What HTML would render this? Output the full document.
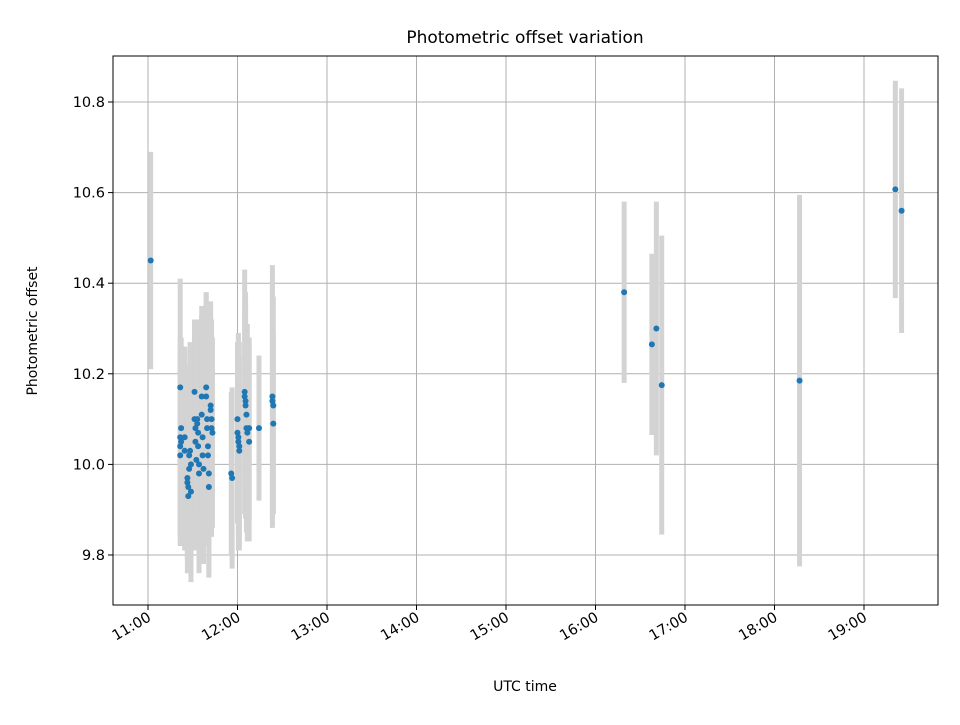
<!DOCTYPE html>
<html><head><meta charset="utf-8"><style>
body{margin:0;background:#fff;}
svg text{font-family:"DejaVu Sans","Liberation Sans",sans-serif;fill:#000;}
</style></head><body>
<svg id="chart" width="960" height="720" xmlns="http://www.w3.org/2000/svg">
<defs><clipPath id="plotclip"><rect x="113" y="56" width="825" height="549"/></clipPath></defs>
<rect width="960" height="720" fill="#fff"/>
<g id="grid"></g><g id="bars" clip-path="url(#plotclip)"></g><g id="dots"></g><g id="axes"></g>
<text x="525" y="43" font-size="17" text-anchor="middle">Photometric offset variation</text>
<text x="525" y="691" font-size="14" text-anchor="middle">UTC time</text>
<text transform="translate(37,331) rotate(-90)" font-size="14" text-anchor="middle">Photometric offset</text>
</svg>
<script>
const times=[11.36,11.36,11.36,11.36,11.37,11.37,11.41,11.41,11.44,11.44,11.45,11.45,11.46,11.46,11.47,11.48,11.48,11.52,11.52,11.53,11.53,11.54,11.55,11.55,11.56,11.56,11.57,11.57,11.6,11.6,11.61,11.61,11.62,11.65,11.65,11.66,11.66,11.67,11.67,11.68,11.68,11.7,11.7,11.71,11.71,11.72,11.93,11.94,12.0,12.0,12.01,12.01,12.02,12.02,12.08,12.08,12.09,12.09,12.1,12.1,12.11,12.13,12.13,12.24,12.39,12.39,12.4,12.4,11.03,16.32,16.63,16.68,16.74,18.28,19.35,19.42];
const values=[10.17,10.06,10.04,10.02,10.05,10.08,10.06,10.03,9.96,9.97,9.93,9.95,9.99,10.02,10.03,10.0,9.94,10.16,10.1,10.08,10.05,10.01,10.1,10.09,10.07,10.04,10.0,9.98,10.15,10.11,10.06,10.02,9.99,10.17,10.15,10.1,10.08,10.04,10.02,9.98,9.95,10.13,10.12,10.1,10.08,10.07,9.98,9.97,10.1,10.07,10.06,10.05,10.04,10.03,10.16,10.15,10.14,10.13,10.11,10.08,10.07,10.05,10.08,10.08,10.15,10.14,10.13,10.09,10.45,10.38,10.265,10.3,10.175,10.185,10.607,10.56];
const errors=[0.24,0.22,0.2,0.2,0.23,0.2,0.2,0.22,0.2,0.18,0.17,0.19,0.21,0.2,0.24,0.22,0.2,0.16,0.22,0.2,0.24,0.2,0.21,0.23,0.25,0.2,0.22,0.22,0.2,0.22,0.25,0.22,0.21,0.21,0.23,0.25,0.26,0.22,0.2,0.22,0.2,0.23,0.2,0.22,0.24,0.21,0.18,0.2,0.17,0.2,0.22,0.24,0.23,0.21,0.27,0.2,0.22,0.25,0.2,0.23,0.24,0.22,0.2,0.16,0.29,0.26,0.24,0.2,0.24,0.2,0.2,0.28,0.33,0.41,0.24,0.27];
const xTicks=[11,12,13,14,15,16,17,18,19];
const xTickLabels=["11:00","12:00","13:00","14:00","15:00","16:00","17:00","18:00","19:00"];
const yTicks=[9.8,10.0,10.2,10.4,10.6,10.8];
const yTickLabels=["9.8","10.0","10.2","10.4","10.6","10.8"];

const L=113,R=938,T=56,B=605;
const X=h=>148+(h-11)*89.5;
const Y=v=>464.4-(v-10)*453;
const NS="http://www.w3.org/2000/svg";
function mk(tag,attrs,parent){const e=document.createElementNS(NS,tag);for(const k in attrs)e.setAttribute(k,attrs[k]);parent.appendChild(e);return e;}
const grid=document.getElementById('grid'),bars=document.getElementById('bars'),dots=document.getElementById('dots'),axes=document.getElementById('axes');
xTicks.forEach((t,i)=>{
 const x=X(t);
 const g=mk('line',{x1:x,x2:x,y1:T,y2:B,stroke:'#b0b0b0','stroke-width':1},grid);
 
 
 mk('line',{x1:x,x2:x,y1:B,y2:B+5,stroke:'#000','stroke-width':1},axes);
 const tx=mk('text',{x:x+4,y:B+15,'font-size':14.5,'text-anchor':'end',transform:`rotate(-30 ${x+4} ${B+15})`},axes);
 tx.textContent=xTickLabels[i];
 
 
});
yTicks.forEach((t,i)=>{
 const y=Y(t);
 const g=mk('line',{x1:L,x2:R,y1:y,y2:y,stroke:'#b0b0b0','stroke-width':1},grid);
 
 
 mk('line',{x1:L-5,x2:L,y1:y,y2:y,stroke:'#000','stroke-width':1},axes);
 const tx=mk('text',{x:L-8,y:y+5,'font-size':14.5,'text-anchor':'end'},axes);
 tx.textContent=yTickLabels[i];
 
 
});
const frame=mk('rect',{x:L,y:T,width:R-L,height:B-T,fill:'none',stroke:'#000','stroke-width':1},axes);


times.forEach((t,i)=>{
 const x=X(t);
 const b=mk('line',{x1:x,x2:x,y1:Y(values[i]+errors[i]),y2:Y(values[i]-errors[i]),stroke:'#d3d3d3','stroke-width':5},bars);
 
 
 const c=mk('circle',{cx:x,cy:Y(values[i]),r:3,fill:'#1f77b4'},dots);
 
 
});
</script>
</body></html>
